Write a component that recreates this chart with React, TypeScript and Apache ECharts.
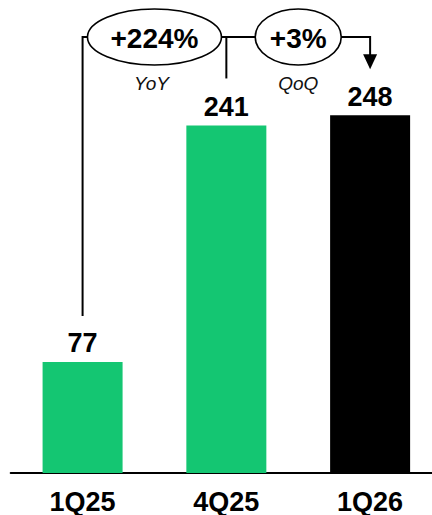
import React, { useEffect, useRef } from "react";
import * as echarts from "echarts";

const categories = ["1Q25", "4Q25", "1Q26"];
const values = [77, 241, 248];
const barColors = ["#14C672", "#14C672", "#000000"];
const changeLabels = ["+224%", "+3%"];
const changeKinds = ["YoY", "QoQ"];

const FONT = "'Liberation Sans', Arial, Helvetica, sans-serif";

export default function App() {
  const ref = useRef<HTMLDivElement>(null);

  useEffect(() => {
    if (!ref.current) return;
    const chart = echarts.init(ref.current, null, { renderer: "svg" });

    const renderAnnotation = (params: any, api: any) => {
      const p0 = api.coord([0, values[0]]);
      const p1 = api.coord([1, values[1]]);
      const p2 = api.coord([2, values[2]]);
      const by = 37;
      const ry = 28;
      const m1 = (p0[0] + p1[0]) / 2;
      const m2 = (p1[0] + p2[0]) / 2;
      const lineStyle = { stroke: "#000", lineWidth: 2, fill: null };
      const arrowTip = p2[1] - 46;
      return {
        type: "group",
        children: [
          { type: "line", shape: { x1: p0[0], y1: by, x2: p2[0], y2: by }, style: lineStyle },
          { type: "line", shape: { x1: p0[0], y1: by - 1, x2: p0[0], y2: p0[1] - 46 }, style: lineStyle },
          { type: "line", shape: { x1: p1[0], y1: by, x2: p1[0], y2: p1[1] - 47 }, style: lineStyle },
          { type: "line", shape: { x1: p2[0], y1: by - 1, x2: p2[0], y2: arrowTip - 10 }, style: lineStyle },
          {
            type: "polygon",
            shape: { points: [[p2[0] - 7, arrowTip - 15], [p2[0] + 7, arrowTip - 15], [p2[0], arrowTip]] },
            style: { fill: "#000" },
          },
          { type: "ellipse", shape: { cx: m1, cy: by, rx: 67, ry }, style: { fill: "#fff", stroke: "#000", lineWidth: 1.6 } },
          { type: "ellipse", shape: { cx: m2, cy: by, rx: 43, ry }, style: { fill: "#fff", stroke: "#000", lineWidth: 1.6 } },
          {
            type: "text",
            style: { text: changeLabels[0], x: m1, y: by + 1, align: "center", verticalAlign: "middle", fontSize: 28, fontWeight: "bold", fontFamily: FONT, fill: "#000" },
          },
          {
            type: "text",
            style: { text: changeLabels[1], x: m2, y: by + 1, align: "center", verticalAlign: "middle", fontSize: 28, fontWeight: "bold", fontFamily: FONT, fill: "#000" },
          },
          {
            type: "text",
            style: { text: changeKinds[0], x: m1 - 3, y: by + 46, align: "center", verticalAlign: "middle", fontSize: 19, fontStyle: "italic", fontFamily: FONT, fill: "#111" },
          },
          {
            type: "text",
            style: { text: changeKinds[1], x: m2, y: by + 46, align: "center", verticalAlign: "middle", fontSize: 19, fontStyle: "italic", fontFamily: FONT, fill: "#111" },
          },
        ],
      };
    };

    chart.setOption({
      animation: false,
      grid: { left: 10.7, right: 0, top: 0, bottom: 42, containLabel: false },
      xAxis: {
        type: "category",
        data: categories,
        axisLine: { show: true, lineStyle: { color: "#000", width: 2 } },
        axisTick: { show: false },
        axisLabel: { color: "#000", fontSize: 27, fontWeight: "bold", fontFamily: FONT, margin: 15 },
      },
      yAxis: {
        type: "value",
        min: 0,
        max: 328,
        show: false,
        splitLine: { show: false },
      },
      series: [
        {
          type: "bar",
          barWidth: 80,
          data: values.map((v, i) => ({ value: v, itemStyle: { color: barColors[i] } })),
          label: {
            show: true,
            position: "top",
            distance: 5,
            color: "#000",
            fontSize: 27,
            fontWeight: "bold",
            fontFamily: FONT,
          },
          z: 2,
        },
        {
          type: "custom",
          coordinateSystem: "cartesian2d",
          data: [[0, 0]],
          clip: false,
          silent: true,
          renderItem: renderAnnotation,
          z: 5,
        },
      ],
    });

    return () => chart.dispose();
  }, []);

  return (
    <div
      style={{ position: "fixed", left: 0, top: 0, width: 432, height: 515, overflow: "hidden", background: "#fff" }}
    >
      <div ref={ref} style={{ width: 442, height: 515 }} />
    </div>
  );
}
